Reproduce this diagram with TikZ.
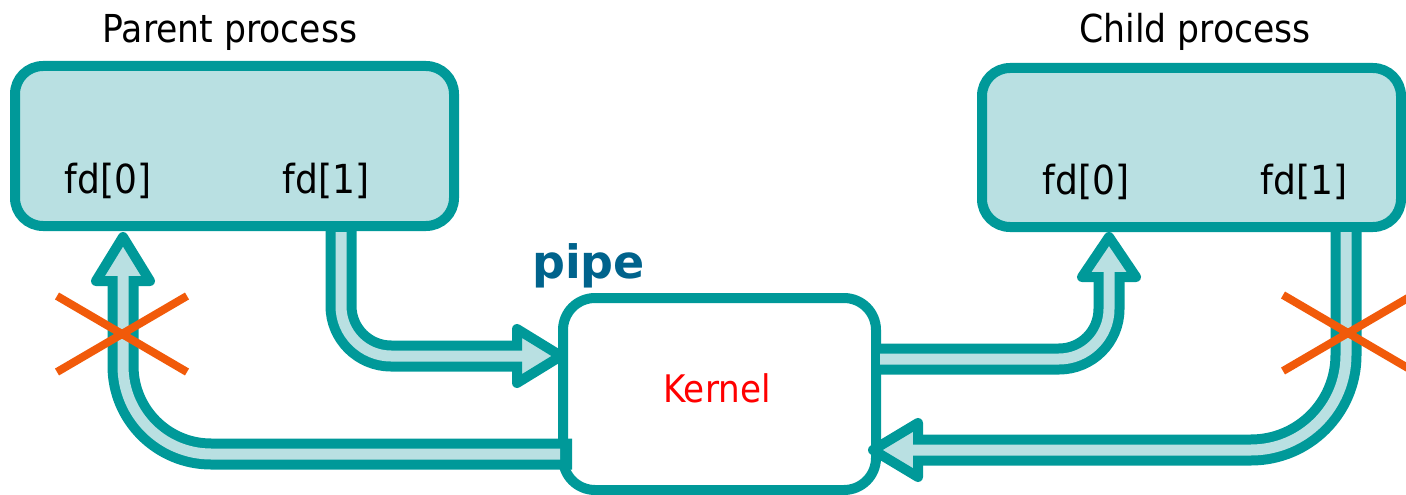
\documentclass[tikz,border=0pt]{standalone}
\usepackage{fontspec}
\newfontfamily\condfont{DejaVu Sans Condensed}
\newfontfamily\widefont{DejaVu Sans}
\usetikzlibrary{calc}
\definecolor{pipeteal}{RGB}{0,153,153}
\definecolor{pipelight}{RGB}{185,224,226}
\definecolor{pipeblue}{RGB}{0,99,140}
\definecolor{crossorange}{RGB}{241,90,10}

\begin{document}
\begin{tikzpicture}[x=1pt,y=-1pt,
  procbox/.style={draw=pipeteal, fill=pipelight, line width=10pt, rounded corners=28pt, inner sep=0pt, outer sep=0pt},
  kernbox/.style={draw=pipeteal, fill=white, line width=10pt, rounded corners=32pt, inner sep=0pt, outer sep=0pt},
  shaftout/.style={draw=pipeteal, line width=31pt},
  shaftin/.style={draw=pipelight, line width=11pt},
  headshape/.style={draw=pipeteal, fill=pipelight, line width=10pt, line join=round},
  crossline/.style={draw=crossorange, line width=8pt},
  titletext/.style={font=\condfont\fontsize{38.5}{40}\selectfont, anchor=base, inner sep=0pt},
  fdtext/.style={font=\condfont\fontsize{40}{42}\selectfont, anchor=base, inner sep=0pt},
]
\useasboundingbox (0,0) rectangle (1406,495);

% process and kernel boxes
\node[procbox, minimum width=439pt, minimum height=160pt] (parent) at (234.5,146) {};
\node[procbox, minimum width=419pt, minimum height=159pt] (child) at (1191.5,147.5) {};
\node[kernbox, minimum width=313pt, minimum height=192pt] (kernel) at (719.5,394) {};

% labels
\node[titletext] (ptitle) at (230,43) {Parent process};
\node[titletext] (ctitle) at (1195,43) {Child process};
\node[fdtext] (pfd0) at (108,193) {fd[0]};
\node[fdtext] (pfd1) at (326,193) {fd[1]};
\node[fdtext] (cfd0) at (1086,194) {fd[0]};
\node[fdtext] (cfd1) at (1304,194) {fd[1]};
\node[fdtext, font=\condfont\fontsize{38}{40}\selectfont, text=red] (ktext) at (717,402) {Kernel};
\node[anchor=base, inner sep=0pt, text=pipeblue, font=\widefont\bfseries\fontsize{46}{48}\selectfont] (pipelabel) at (588.5,278) {pipe};

% pipe ends
\coordinate (a0) at (341,222);   \coordinate (a0i) at (341,232);
\coordinate (abase) at (517,356); \coordinate (atip) at (561,356);
\coordinate (b0) at (572,454);   \coordinate (b0i) at (560,454);
\coordinate (bbase) at (123,281); \coordinate (btip) at (123,237);
\coordinate (c0) at (872,359);   \coordinate (c0i) at (880,359);
\coordinate (cbase) at (1109,277); \coordinate (ctip) at (1109,237);
\coordinate (d0) at (1346,222);  \coordinate (d0i) at (1346,232);
\coordinate (dbase) at (918,450); \coordinate (dtip) at (873,450);

% parent fd[1] -> kernel
\draw[shaftout, rounded corners=50pt] (a0) |- (abase);
\filldraw[headshape] ($(abase)+(0,-27)$) -- (atip) -- ($(abase)+(0,27)$) -- cycle;
\draw[shaftin, rounded corners=50pt] (a0i) |- ($(abase)+(8,0)$);

% kernel -> parent fd[0]
\draw[shaftout, rounded corners=88pt] (b0) -| (bbase);
\filldraw[headshape] ($(bbase)+(-27,0)$) -- (btip) -- ($(bbase)+(27,0)$) -- cycle;
\draw[shaftin, rounded corners=88pt] (b0i) -| ($(bbase)+(0,-8)$);

% kernel -> child fd[0]
\draw[shaftout, rounded corners=50pt] (c0) -| (cbase);
\filldraw[headshape] ($(cbase)+(-27,0)$) -- (ctip) -- ($(cbase)+(27,0)$) -- cycle;
\draw[shaftin, rounded corners=50pt] (c0i) -| ($(cbase)+(0,-8)$);

% child fd[1] -> kernel
\draw[shaftout, rounded corners=95pt] (d0) |- (dbase);
\filldraw[headshape] ($(dbase)+(0,-27)$) -- (dtip) -- ($(dbase)+(0,27)$) -- cycle;
\draw[shaftin, rounded corners=95pt] (d0i) |- ($(dbase)+(-8,0)$);

% closed ends
\coordinate (x1) at (122,334);
\coordinate (x2) at (1348,333);
\draw[crossline] ($(x1)+(-65,-38)$) -- ($(x1)+(65,38)$);
\draw[crossline] ($(x1)+(-65,38)$) -- ($(x1)+(65,-38)$);
\draw[crossline] ($(x2)+(-65,-38)$) -- ($(x2)+(65,38)$);
\draw[crossline] ($(x2)+(-65,38)$) -- ($(x2)+(65,-38)$);
\end{tikzpicture}
\end{document}
